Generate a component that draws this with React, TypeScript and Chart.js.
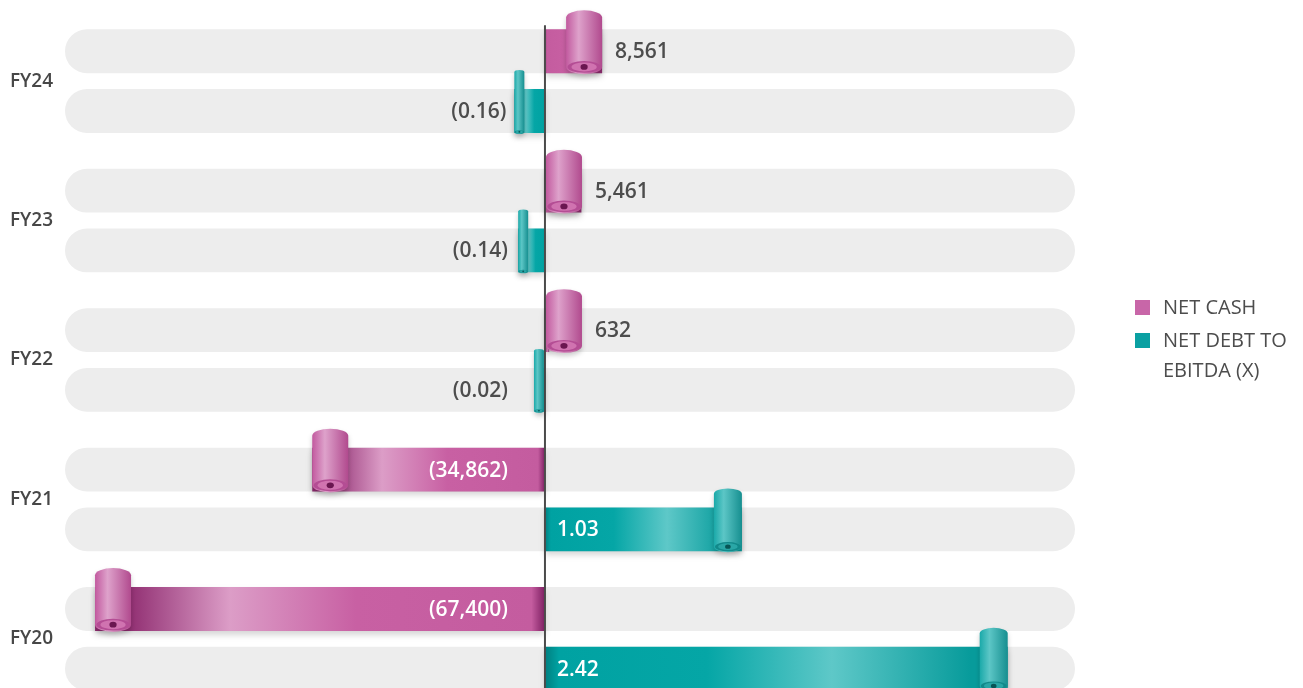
import React, { useEffect, useRef } from 'react';
import { Chart, registerables } from 'chart.js';

Chart.register(...registerables);

const categories = ['FY24', 'FY23', 'FY22', 'FY21', 'FY20'];
const netCash = [8561, 5461, 632, -34862, -67400];
const netDebtToEbitda = [-0.16, -0.14, -0.02, 1.03, 2.42];
const seriesNetCash = 'NET CASH';
const seriesNetDebt = ['NET DEBT TO', 'EBITDA (X)'];

const FONT = '"Open Sans", "Noto Sans", sans-serif';
const PINK = '#c866a8';
const TEAL = '#0aa0a2';

const fmtCash = (v: number) => {
  const s = Math.abs(v).toLocaleString('en-US');
  return v < 0 ? `(${s})` : s;
};
const fmtRatio = (v: number) => {
  const s = Math.abs(v).toFixed(2);
  return v < 0 ? `(${s})` : s;
};

const pinkStops: [number, string][] = [
  [0, '#7d1f62'], [0.03, '#c45c9f'], [0.42, '#c860a3'], [0.7, '#dc9dc7'], [0.93, '#8f2c70'], [1, '#8f2c70'],
];
const tealStops: [number, string][] = [
  [0, '#007f80'], [0.03, '#00a2a2'], [0.35, '#05a6a6'], [0.62, '#5ec8c8'], [0.92, '#079b9b'], [1, '#079b9b'],
];

function barGradient(ctx: any, stops: [number, string][], axisId: string) {
  const chart = ctx.chart;
  const scale = chart.scales[axisId];
  if (!scale || !chart.chartArea || !ctx.parsed) return stops[2][1];
  const base = scale.getPixelForValue(0);
  const end = scale.getPixelForValue(ctx.parsed.x);
  if (!isFinite(base) || !isFinite(end) || Math.abs(end - base) < 1) return stops[2][1];
  const g = chart.ctx.createLinearGradient(base, 0, end, 0);
  stops.forEach(([o, c]) => g.addColorStop(o, c));
  return g;
}

function drawCylinder(ctx: CanvasRenderingContext2D, left: number, top: number, bottom: number, w: number, pink: boolean) {
  const rx = w / 2;
  const ry = Math.max(2, w * 0.2);
  const cx = left + rx;
  const cols = pink ? ['#c25a9f', '#dea2cb', '#b14a8e'] : ['#1aa9a9', '#5cc6c6', '#168f90'];
  ctx.save();
  ctx.shadowColor = 'rgba(0,0,0,0.2)';
  ctx.shadowBlur = 5;
  ctx.shadowOffsetY = 3;
  const g = ctx.createLinearGradient(left, 0, left + w, 0);
  g.addColorStop(0, cols[0]);
  g.addColorStop(0.35, cols[1]);
  g.addColorStop(1, cols[2]);
  ctx.beginPath();
  ctx.moveTo(left, bottom - ry);
  ctx.lineTo(left, top + ry);
  ctx.ellipse(cx, top + ry, rx, ry, 0, Math.PI, 2 * Math.PI);
  ctx.lineTo(left + w, bottom - ry);
  ctx.ellipse(cx, bottom - ry, rx, ry, 0, 0, Math.PI);
  ctx.closePath();
  ctx.fillStyle = g;
  ctx.fill();
  ctx.restore();
  ctx.save();
  ctx.beginPath();
  ctx.ellipse(cx, bottom - ry, rx * 0.92, ry * 0.82, 0, 0, 2 * Math.PI);
  ctx.fillStyle = pink ? '#b44d94' : '#12898a';
  ctx.fill();
  ctx.beginPath();
  ctx.ellipse(cx, bottom - ry, rx * 0.7, ry * 0.62, 0, 0, 2 * Math.PI);
  ctx.fillStyle = pink ? '#d073b0' : '#2aa6a6';
  ctx.fill();
  ctx.beginPath();
  ctx.ellipse(cx, bottom - ry, rx * 0.2, ry * 0.4, 0, 0, 2 * Math.PI);
  ctx.fillStyle = pink ? '#6a1650' : '#085556';
  ctx.fill();
  ctx.restore();
}

function roundRect(ctx: CanvasRenderingContext2D, x: number, y: number, w: number, h: number, r: number) {
  ctx.beginPath();
  ctx.moveTo(x + r, y);
  ctx.lineTo(x + w - r, y);
  ctx.arc(x + w - r, y + r, r, -Math.PI / 2, Math.PI / 2);
  ctx.lineTo(x + r, y + h);
  ctx.arc(x + r, y + r, r, Math.PI / 2, (3 * Math.PI) / 2);
  ctx.closePath();
  ctx.fill();
}

const decorPlugin = {
  id: 'decor',
  beforeDatasetsDraw(chart: any) {
    const { ctx, chartArea } = chart;
    ctx.save();
    ctx.fillStyle = '#ededed';
    chart.data.datasets.forEach((_d: any, i: number) => {
      chart.getDatasetMeta(i).data.forEach((el: any) => {
        const h = el.height;
        roundRect(ctx, chartArea.left, el.y - h / 2, chartArea.right - chartArea.left, h, h / 2);
      });
    });
    ctx.restore();
  },
  beforeDatasetDraw(chart: any) {
    const ctx = chart.ctx;
    ctx.save();
    ctx.shadowColor = 'rgba(0,0,0,0.16)';
    ctx.shadowBlur = 6;
    ctx.shadowOffsetY = 4;
  },
  afterDatasetDraw(chart: any) {
    chart.ctx.restore();
  },
  afterDatasetsDraw(chart: any) {
    const { ctx } = chart;
    const zero = chart.scales.x.getPixelForValue(0);
    const first = chart.getDatasetMeta(0).data[0] as any;
    ctx.save();
    ctx.strokeStyle = '#4b4b4b';
    ctx.lineWidth = 2;
    ctx.beginPath();
    ctx.moveTo(zero, first.y - first.height / 2 - 4);
    ctx.lineTo(zero, chart.height);
    ctx.stroke();
    ctx.restore();

    chart.data.datasets.forEach((ds: any, i: number) => {
      const pink = i === 0;
      chart.getDatasetMeta(i).data.forEach((el: any, j: number) => {
        const v = ds.data[j];
        const base = el.base;
        const end = el.x;
        const len = Math.abs(end - base);
        const h = el.height;
        const top = el.y - h / 2 - 19;
        const bottom = el.y + h / 2 + 1;
        const w = pink ? 36 : len < 40 ? 10 : 28;
        let left: number;
        if (v >= 0) left = Math.max(end - w, base + 1);
        else left = Math.min(end, base - w - 1);
        drawCylinder(ctx, left, top, bottom, w, pink);

        const text = pink ? fmtCash(v) : fmtRatio(v);
        ctx.save();
        ctx.font = `600 21px ${FONT}`;
        ctx.textBaseline = 'middle';
        const tw = ctx.measureText(text).width;
        if (v >= 0) {
          const fits = len - w - 12 >= tw + 8;
          ctx.textAlign = 'left';
          ctx.fillStyle = fits ? '#ffffff' : '#4d4d4d';
          ctx.fillText(text, fits ? base + 12 : left + w + 13, el.y + 1);
        } else {
          const fits = len - w - 37 >= tw + 8;
          ctx.textAlign = 'right';
          ctx.fillStyle = fits ? '#ffffff' : '#4d4d4d';
          ctx.fillText(text, fits ? base - 37 : Math.min(base - 37, left - 8), el.y + 1);
        }
        ctx.restore();
      });
    });
  },
};

export default function App() {
  const canvasRef = useRef<HTMLCanvasElement | null>(null);

  useEffect(() => {
    const canvas = canvasRef.current;
    if (!canvas) return;
    const chart = new Chart(canvas, {
      type: 'bar',
      data: {
        labels: categories,
        datasets: [
          {
            label: seriesNetCash,
            data: netCash,
            xAxisID: 'x',
            backgroundColor: (c: any) => barGradient(c, pinkStops, 'x'),
            borderWidth: 0,
          },
          {
            label: seriesNetDebt.join(' '),
            data: netDebtToEbitda,
            xAxisID: 'x2',
            backgroundColor: (c: any) => barGradient(c, tealStops, 'x2'),
            borderWidth: 0,
          },
        ],
      },
      options: {
        indexAxis: 'y',
        responsive: false,
        animation: false,
        layout: { padding: { left: 10, right: 228, top: 10, bottom: 10 } },
        datasets: { bar: { categoryPercentage: 120 / 140, barPercentage: 44 / 60 } } as any,
        scales: {
          y: {
            type: 'category',
            grid: { display: false },
            border: { display: false },
            ticks: {
              crossAlign: 'far',
              padding: 0,
              color: '#474747',
              font: { family: FONT, size: 19, weight: '600' as any },
            },
            afterFit: (s: any) => {
              s.width = 55;
            },
          },
          x: { type: 'linear', display: false, min: -71900, max: 79400 },
          x2: { type: 'linear', display: false, min: -2.51, max: 2.772 },
        },
        plugins: {
          legend: { display: false },
          tooltip: { enabled: false },
        },
      } as any,
      plugins: [decorPlugin],
    });
    return () => chart.destroy();
  }, []);

  const textStyle: React.CSSProperties = {
    position: 'absolute',
    left: 1163,
    fontFamily: FONT,
    fontSize: 20,
    fontWeight: 400,
    color: '#4d4d4d',
    lineHeight: '30px',
    whiteSpace: 'nowrap',
  };

  return (
    <div style={{ position: 'fixed', left: 0, top: 0, width: 1303, height: 688, overflow: 'hidden', background: '#fff' }}>
      <canvas ref={canvasRef} width={1303} height={720} style={{ position: 'absolute', left: 0, top: 0, width: 1303, height: 720 }} />
      <div style={{ position: 'absolute', left: 1135, top: 300, width: 15, height: 15, background: PINK }} />
      <div style={{ ...textStyle, top: 292 }}>{seriesNetCash}</div>
      <div style={{ position: 'absolute', left: 1135, top: 333, width: 15, height: 15, background: TEAL }} />
      <div style={{ ...textStyle, top: 325 }}>
        {seriesNetDebt[0]}
        <br />
        {seriesNetDebt[1]}
      </div>
    </div>
  );
}
